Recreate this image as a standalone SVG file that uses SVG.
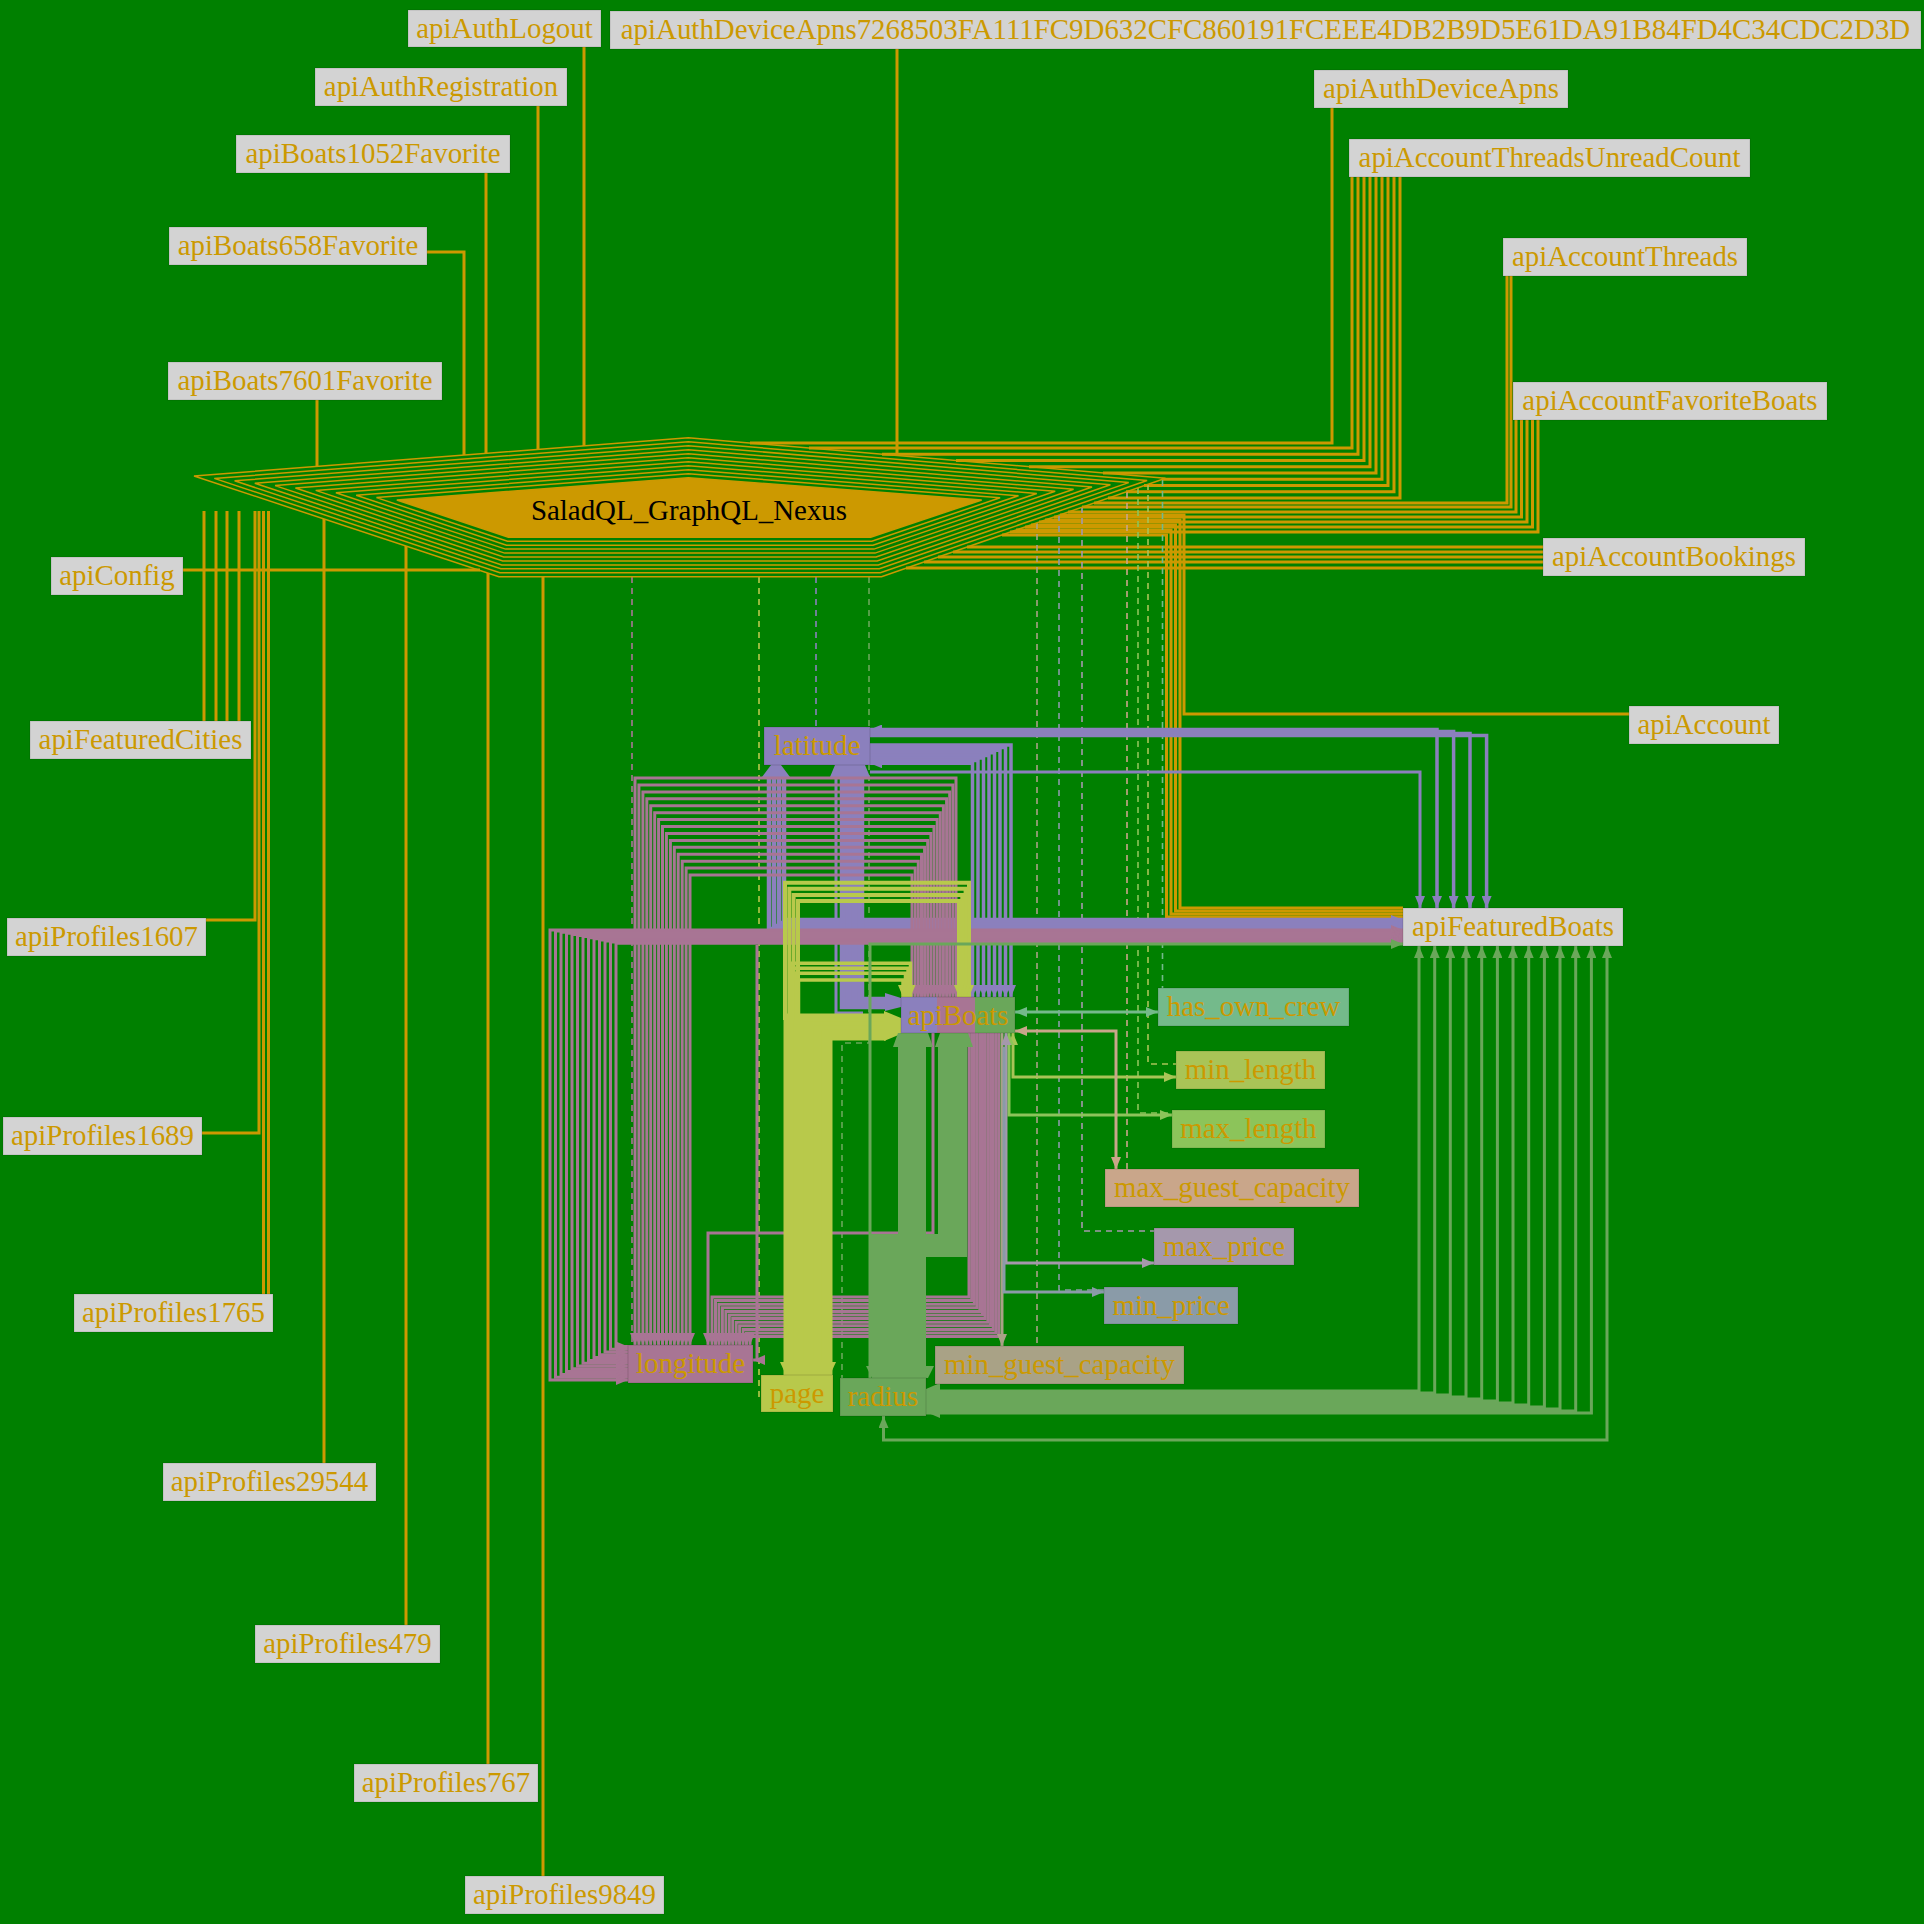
<svg xmlns="http://www.w3.org/2000/svg" width="1924" height="1924" viewBox="0 0 1924 1924">
<style>
.n rect{fill:#d3d3d3;stroke:#000;stroke-opacity:0.12;stroke-width:1.2}
.n text{font-family:"Liberation Serif","Times New Roman",serif;font-size:28.9px;fill:#cc9900;text-anchor:middle}
.o{stroke:#cc9900;stroke-width:3;fill:none}
.per{fill:none;stroke:#cc9900;stroke-width:1.5}
.d{fill:none;stroke-width:1.6;stroke-dasharray:6 5}
.pu{fill:none;stroke:#8b80bd}
.pk{fill:none;stroke:#a87594;stroke-width:3}
.ye{fill:none;stroke:#b8c94b}
.gr{fill:none;stroke:#6aa75a}
</style>
<defs>
<marker id="mP" viewBox="0 0 12 10" refX="12" refY="5" markerWidth="12" markerHeight="10" markerUnits="userSpaceOnUse" orient="auto-start-reverse"><path d="M0,0L12,5L0,10z" fill="#8b80bd"/></marker>
<marker id="mK" viewBox="0 0 12 10" refX="12" refY="5" markerWidth="12" markerHeight="10" markerUnits="userSpaceOnUse" orient="auto-start-reverse"><path d="M0,0L12,5L0,10z" fill="#a87594"/></marker>
<marker id="mY" viewBox="0 0 12 10" refX="12" refY="5" markerWidth="12" markerHeight="10" markerUnits="userSpaceOnUse" orient="auto-start-reverse"><path d="M0,0L12,5L0,10z" fill="#b8c94b"/></marker>
<marker id="mG" viewBox="0 0 12 10" refX="12" refY="5" markerWidth="12" markerHeight="10" markerUnits="userSpaceOnUse" orient="auto-start-reverse"><path d="M0,0L12,5L0,10z" fill="#6aa75a"/></marker>
<marker id="mT" viewBox="0 0 12 10" refX="12" refY="5" markerWidth="12" markerHeight="10" markerUnits="userSpaceOnUse" orient="auto-start-reverse"><path d="M0,0L12,5L0,10z" fill="#a9a286"/></marker>
<marker id="mMP" viewBox="0 0 12 10" refX="12" refY="5" markerWidth="12" markerHeight="10" markerUnits="userSpaceOnUse" orient="auto-start-reverse"><path d="M0,0L12,5L0,10z" fill="#a598ac"/></marker>
<marker id="mNP" viewBox="0 0 12 10" refX="12" refY="5" markerWidth="12" markerHeight="10" markerUnits="userSpaceOnUse" orient="auto-start-reverse"><path d="M0,0L12,5L0,10z" fill="#8a9ba8"/></marker>
<marker id="mGC" viewBox="0 0 12 10" refX="12" refY="5" markerWidth="12" markerHeight="10" markerUnits="userSpaceOnUse" orient="auto-start-reverse"><path d="M0,0L12,5L0,10z" fill="#c9a68a"/></marker>
<marker id="mXL" viewBox="0 0 12 10" refX="12" refY="5" markerWidth="12" markerHeight="10" markerUnits="userSpaceOnUse" orient="auto-start-reverse"><path d="M0,0L12,5L0,10z" fill="#8cc45a"/></marker>
<marker id="mNL" viewBox="0 0 12 10" refX="12" refY="5" markerWidth="12" markerHeight="10" markerUnits="userSpaceOnUse" orient="auto-start-reverse"><path d="M0,0L12,5L0,10z" fill="#a9c457"/></marker>
<marker id="mH" viewBox="0 0 12 10" refX="12" refY="5" markerWidth="12" markerHeight="10" markerUnits="userSpaceOnUse" orient="auto-start-reverse"><path d="M0,0L12,5L0,10z" fill="#74ba8b"/></marker>
<linearGradient id="gB" x1="0" x2="1" y1="0" y2="0">
<stop offset="0" stop-color="#8b80bd"/><stop offset="0.32" stop-color="#8b80bd"/><stop offset="0.32" stop-color="#a87594"/><stop offset="0.65" stop-color="#a87594"/><stop offset="0.65" stop-color="#6aa75a"/><stop offset="1" stop-color="#6aa75a"/>
</linearGradient>
</defs>
<rect x="0" y="0" width="1924" height="1924" fill="#008000"/>

<g id="connectors">
<g class="o">
<path d="M584 47V446"/>
<path d="M538 106V450"/>
<path d="M486 173V454"/>
<path d="M427 252H464V455"/>
<path d="M317 400V467"/>
<path d="M897 49V456"/>
<path d="M1332 108V443H750"/>
<path d="M1352 177V448H809"/>
<path d="M1358 177V454.2H882"/>
<path d="M1364 177V460.5H956"/>
<path d="M1370 177V466.8H1029"/>
<path d="M1376 177V473H1103"/>
<path d="M1382 177V479.2H1162"/>
<path d="M1388 177V485.5H1144"/>
<path d="M1394 177V491.8H1126"/>
<path d="M1400 177V498H1108"/>
<path d="M1507 276V503H1094"/>
<path d="M1511 276V507H1082"/>
<path d="M1516 420V512H1068"/>
<path d="M1521.5 420V517H1054"/>
<path d="M1527 420V522H1039"/>
<path d="M1532.5 420V527H1025"/>
<path d="M1538 420V532H1010"/>
<path d="M1543 547H967"/>
<path d="M1543 552H953"/>
<path d="M1543 557H938"/>
<path d="M1543 562H924"/>
<path d="M1543 568H906"/>
<path d="M1629 714H1184V515H1060"/>
<path d="M1045 520H1180V908H1403"/>
<path d="M1031 525H1175.5V911H1403"/>
<path d="M1016 530H1171V914H1403"/>
<path d="M1002 535H1166.5V917H1403"/>
<path d="M183 570H480"/>
<path d="M204 721V511"/>
<path d="M216 721V511"/>
<path d="M227 721V511"/>
<path d="M239 721V511"/>
<path d="M206 920H255V511"/>
<path d="M202 1133H259V511"/>
<path d="M263.5 1294V511"/>
<path d="M268.5 1294V511"/>
<path d="M324 1463V519"/>
<path d="M406 1625V546"/>
<path d="M488 1764V573"/>
<path d="M543 1876V577"/>
</g>
<path class="d" stroke="#a87594" d="M632 577V1345"/>
<path class="d" stroke="#b8c94b" d="M759 577V1397"/>
<path class="d" stroke="#8b80bd" d="M816 577V727"/>
<path class="d" stroke="#6aa75a" d="M869 577V1043H842V1378"/>
<path class="d" stroke="#a9a286" d="M1037 523V1346"/>
<path class="d" stroke="#8a9ba8" d="M1059 515V1290H1104"/>
<path class="d" stroke="#a598ac" d="M1082 507V1231H1154"/>
<path class="d" stroke="#c9a68a" d="M1127 492V1169"/>
<path class="d" stroke="#8cc45a" d="M1138 488V1113H1172"/>
<path class="d" stroke="#a9c457" d="M1148 484V1064H1176"/>
<path class="d" stroke="#74ba8b" d="M1162.5 480V988"/>
<g class="pu" stroke-width="3.5">
<path d="M870 729.5H1437V908" marker-start="url(#mP)" marker-end="url(#mP)"/>
<path d="M870 731.5H1453.6V908" marker-end="url(#mP)"/>
<path d="M870 733.5H1470V908" marker-end="url(#mP)"/>
<path d="M870 735.5H1486.6V908" marker-end="url(#mP)"/>
<path d="M870 772H1420V908" stroke-width="3" marker-end="url(#mP)"/>
<path d="M870 745H1011V997" marker-end="url(#mP)"/>
<path d="M870 747.6H1005.5V997" marker-end="url(#mP)"/>
<path d="M870 750.2H1000V997" marker-end="url(#mP)"/>
<path d="M870 752.8H994.5V997" marker-end="url(#mP)"/>
<path d="M870 755.4H989V997" marker-end="url(#mP)"/>
<path d="M870 758H983.5V997" marker-end="url(#mP)"/>
<path d="M870 760.6H978V997" marker-end="url(#mP)"/>
<path d="M870 763.2H972.5V997" marker-start="url(#mP)" marker-end="url(#mP)"/>
<path d="M769 777V929H1403" stroke-width="4.5" marker-end="url(#mP)"/>
<path d="M774 777V926H1403" stroke-width="4.5" marker-end="url(#mP)"/>
<path d="M779 777V923H1403" stroke-width="4.5" marker-end="url(#mP)"/>
<path d="M784 777V920H1403" stroke-width="4.5" marker-end="url(#mP)"/>
<path d="M843 777V1006H886" stroke-width="6.5"/>
<path d="M849 777V1004H886" stroke-width="6.5"/>
<path d="M855 777V1002H886" stroke-width="6.5"/>
<path d="M861 777V1000H886" stroke-width="6.5"/>
<path d="M836 777V1013H863" stroke-width="3"/>
</g>
<polygon fill="#8b80bd" points="762,777 790,777 781,765 771,765"/>
<polygon fill="#8b80bd" points="830,777 870,777 865,765 835,765"/>
<polygon fill="#8b80bd" points="885,993 901,998 901,1007 885,1011"/>
<g class="pk">
<path d="M956 997V778H635V1345" marker-start="url(#mK)" marker-end="url(#mK)"/>
<path d="M952.9 997V784.9H638.9V1345" marker-start="url(#mK)" marker-end="url(#mK)"/>
<path d="M949.7 997V791.9H642.9V1345" marker-start="url(#mK)" marker-end="url(#mK)"/>
<path d="M946.6 997V798.8H646.8V1345" marker-start="url(#mK)" marker-end="url(#mK)"/>
<path d="M943.4 997V805.7H650.7V1345" marker-start="url(#mK)" marker-end="url(#mK)"/>
<path d="M940.3 997V812.7H654.7V1345" marker-start="url(#mK)" marker-end="url(#mK)"/>
<path d="M937.2 997V819.6H658.6V1345" marker-start="url(#mK)" marker-end="url(#mK)"/>
<path d="M934 997V826.5H662.5V1345" marker-start="url(#mK)" marker-end="url(#mK)"/>
<path d="M930.9 997V833.4H666.4V1345" marker-start="url(#mK)" marker-end="url(#mK)"/>
<path d="M927.7 997V840.4H670.4V1345" marker-start="url(#mK)" marker-end="url(#mK)"/>
<path d="M924.6 997V847.3H674.3V1345" marker-start="url(#mK)" marker-end="url(#mK)"/>
<path d="M921.5 997V854.2H678.2V1345" marker-start="url(#mK)" marker-end="url(#mK)"/>
<path d="M918.3 997V861.2H682.2V1345" marker-start="url(#mK)" marker-end="url(#mK)"/>
<path d="M915.2 997V868.1H686.1V1345" marker-start="url(#mK)" marker-end="url(#mK)"/>
<path d="M912 997V875H690V1345" marker-start="url(#mK)" marker-end="url(#mK)"/>
<path d="M628 1380H550V930H1403" marker-start="url(#mK)" marker-end="url(#mK)"/>
<path d="M628 1377.2H555.5V931.1H1403" marker-start="url(#mK)" marker-end="url(#mK)"/>
<path d="M628 1374.4H561V932.2H1403" marker-start="url(#mK)" marker-end="url(#mK)"/>
<path d="M628 1371.6H566.5V933.3H1403" marker-start="url(#mK)" marker-end="url(#mK)"/>
<path d="M628 1368.8H572V934.4H1403" marker-start="url(#mK)" marker-end="url(#mK)"/>
<path d="M628 1366H577.5V935.5H1403" marker-start="url(#mK)" marker-end="url(#mK)"/>
<path d="M628 1363.2H583V936.6H1403" marker-start="url(#mK)" marker-end="url(#mK)"/>
<path d="M628 1360.4H588.5V937.7H1403" marker-start="url(#mK)" marker-end="url(#mK)"/>
<path d="M628 1357.6H594V938.8H1403" marker-start="url(#mK)" marker-end="url(#mK)"/>
<path d="M628 1354.8H599.5V939.9H1403" marker-start="url(#mK)" marker-end="url(#mK)"/>
<path d="M628 1352H605V941H1403" marker-start="url(#mK)" marker-end="url(#mK)"/>
<path d="M628 1349.2H610.5V942.1H1403" marker-start="url(#mK)" marker-end="url(#mK)"/>
<path d="M628 1346.4H616V943.2H1403" marker-start="url(#mK)" marker-end="url(#mK)"/>
<path d="M969 1033V1297H712V1345" marker-end="url(#mK)"/>
<path d="M971.7 1033V1300.6H715.5V1345" marker-end="url(#mK)"/>
<path d="M974.4 1033V1304.2H718.9V1345" marker-end="url(#mK)"/>
<path d="M977.1 1033V1307.8H722.4V1345" marker-end="url(#mK)"/>
<path d="M979.8 1033V1311.4H725.8V1345" marker-end="url(#mK)"/>
<path d="M982.5 1033V1315H729.3V1345" marker-end="url(#mK)"/>
<path d="M985.2 1033V1318.6H732.7V1345" marker-end="url(#mK)"/>
<path d="M987.9 1033V1322.2H736.2V1345" marker-end="url(#mK)"/>
<path d="M990.6 1033V1325.8H739.6V1345" marker-end="url(#mK)"/>
<path d="M993.3 1033V1329.4H743.1V1345" marker-end="url(#mK)"/>
<path d="M996 1033V1333H746.5V1345" marker-end="url(#mK)"/>
<path d="M998.7 1033V1336.6H750V1345" marker-end="url(#mK)"/>
<path d="M933 1033V1233H708V1345" marker-end="url(#mK)"/>
<path d="M757 945V1360H753" marker-end="url(#mK)"/>
</g>
<path d="M1002 1033V1346" fill="none" stroke="#a9a286" stroke-width="3" marker-end="url(#mT)"/>
<g class="ye">
<path d="M789 1375V1019H886" stroke-width="11"/>
<path d="M799 1375V1023H886" stroke-width="11"/>
<path d="M809 1375V1027H886" stroke-width="11"/>
<path d="M819 1375V1031H886" stroke-width="11"/>
<path d="M827 1375V1035H886" stroke-width="11"/>
<path d="M785 1020V882.7H969V997" stroke-width="4" marker-end="url(#mY)"/>
<path d="M789.3 1020V888.8H965.6V997" stroke-width="4" marker-end="url(#mY)"/>
<path d="M793.6 1020V894.9H962.3V997" stroke-width="4" marker-end="url(#mY)"/>
<path d="M798 1020V901H959V997" stroke-width="4" marker-end="url(#mY)"/>
<path d="M791 1020V963.3H910.5V997" stroke-width="3.5" marker-end="url(#mY)"/>
<path d="M793.5 1020V968.3H908V997" stroke-width="3.5" marker-end="url(#mY)"/>
<path d="M796 1020V973.3H905.5V997" stroke-width="3.5" marker-end="url(#mY)"/>
<path d="M798.5 1020V980H903V997" stroke-width="3.5" marker-end="url(#mY)"/>
</g>
<polygon fill="#b8c94b" points="884,1011 901,1018 901,1034 884,1041"/>
<polygon fill="#b8c94b" points="780,1362 836,1362 830,1375 786,1375"/>
<path d="M1013 1033V1077H1176" fill="none" stroke="#a9c457" stroke-width="3" marker-start="url(#mNL)" marker-end="url(#mNL)"/>
<path d="M1009 1033V1115H1172" fill="none" stroke="#8cc45a" stroke-width="3" marker-start="url(#mXL)" marker-end="url(#mXL)"/>
<g class="gr">
<path d="M902 1047V1366" stroke-width="8"/>
<path d="M909 1047V1366" stroke-width="8"/>
<path d="M916 1047V1366" stroke-width="8"/>
<path d="M922 1047V1366" stroke-width="8"/>
<path d="M942 1047V1238H873V1366" stroke-width="8"/>
<path d="M949 1047V1243H880V1366" stroke-width="8"/>
<path d="M956 1047V1248H887V1366" stroke-width="8"/>
<path d="M963 1047V1253H894V1366" stroke-width="8"/>
<path d="M870 1378V944H1403" stroke-width="3" marker-end="url(#mG)"/>
<path d="M926 1391H1419V946" stroke-width="3" marker-end="url(#mG)"/>
<path d="M926 1393H1434.7V946" stroke-width="3" marker-end="url(#mG)"/>
<path d="M926 1395H1450.3V946" stroke-width="3" marker-end="url(#mG)"/>
<path d="M926 1397H1466V946" stroke-width="3" marker-end="url(#mG)"/>
<path d="M926 1399H1481.7V946" stroke-width="3" marker-end="url(#mG)"/>
<path d="M926 1401H1497.4V946" stroke-width="3" marker-end="url(#mG)"/>
<path d="M926 1403H1513V946" stroke-width="3" marker-end="url(#mG)"/>
<path d="M926 1405H1528.7V946" stroke-width="3" marker-end="url(#mG)"/>
<path d="M926 1407H1544.4V946" stroke-width="3" marker-end="url(#mG)"/>
<path d="M926 1409H1560V946" stroke-width="3" marker-end="url(#mG)"/>
<path d="M926 1411H1575.7V946" stroke-width="3" marker-end="url(#mG)"/>
<path d="M926 1413H1591.4V946" stroke-width="3" marker-end="url(#mG)"/>
<path d="M1607 946V1440H883.5V1416" stroke-width="3" marker-start="url(#mG)" marker-end="url(#mG)"/>
</g>
<polygon fill="#6aa75a" points="893,1047 933,1047 928,1033 898,1033"/>
<polygon fill="#6aa75a" points="935,1047 973,1047 968,1033 940,1033"/>
<polygon fill="#6aa75a" points="866,1366 934,1366 928,1378 872,1378"/>
<polygon fill="#6aa75a" points="940,1383 940,1418 926,1412 926,1389"/>
<path d="M1015 1012H1158" fill="none" stroke="#74ba8b" stroke-width="3" marker-start="url(#mH)" marker-end="url(#mH)"/>
<path d="M1015 1031H1116V1169" fill="none" stroke="#c9a68a" stroke-width="3" marker-start="url(#mGC)" marker-end="url(#mGC)"/>
<path d="M1006 1033V1263H1154" fill="none" stroke="#a598ac" stroke-width="3" marker-start="url(#mMP)" marker-end="url(#mMP)"/>
<path d="M1004 1047V1292H1104" fill="none" stroke="#8a9ba8" stroke-width="3" marker-end="url(#mNP)"/>
</g>

<g id="SaladQL_GraphQL_Nexus">
<polygon class="per" points="688.3,473.7 1000.1,497.8 871.8,541.2 507.5,541.2 376.5,497.6"/>
<polygon class="per" points="688.3,469.7 1018.5,495.7 872.9,545.2 506.5,545.2 356.2,495.2"/>
<polygon class="per" points="688.3,465.7 1036.8,493.5 873.9,549.1 505.6,549.1 335.9,492.8"/>
<polygon class="per" points="688.3,461.7 1055.2,491.3 875,553.1 504.6,553.1 315.7,490.4"/>
<polygon class="per" points="688.3,457.7 1073.6,489.2 876.1,557 503.7,557 295.4,488"/>
<polygon class="per" points="688.3,453.7 1092,487 877.2,561 502.7,561 275.1,485.6"/>
<polygon class="per" points="688.3,449.7 1110.4,484.8 878.3,564.9 501.7,564.9 254.8,483.2"/>
<polygon class="per" points="688.3,445.7 1128.7,482.6 879.3,568.8 500.8,568.8 234.6,480.8"/>
<polygon class="per" points="688.3,441.7 1147.1,480.5 880.4,572.8 499.9,572.8 214.3,478.4"/>
<polygon class="per" points="688.3,437.7 1165.5,478.3 881.5,576.7 498.9,576.7 194,476"/>
<polygon fill="#cc9900" stroke="#cc9900" stroke-width="1.5" points="688.3,477.7 981.7,500 870.7,537.3 508.4,537.3 396.8,500"/>
<text x="689" y="520" font-family="Liberation Serif, Times New Roman, serif" font-size="28.9" fill="#000" text-anchor="middle">SaladQL_GraphQL_Nexus</text>
</g>

<g id="apiAuthLogout" class="n"><rect x="408" y="10" width="193" height="37"/><text x="504.5" y="38">apiAuthLogout</text></g>
<g id="apiAuthDeviceApns7268503FA111FC9D632CFC860191FCEEE4DB2B9D5E61DA91B84FD4C34CDC2D3D" class="n"><rect x="610" y="11" width="1311" height="38"/><text x="1265.5" y="39">apiAuthDeviceApns7268503FA111FC9D632CFC860191FCEEE4DB2B9D5E61DA91B84FD4C34CDC2D3D</text></g>
<g id="apiAuthRegistration" class="n"><rect x="315" y="68" width="252" height="38"/><text x="441" y="96">apiAuthRegistration</text></g>
<g id="apiBoats1052Favorite" class="n"><rect x="236" y="135" width="274" height="38"/><text x="373" y="163">apiBoats1052Favorite</text></g>
<g id="apiBoats658Favorite" class="n"><rect x="169" y="227" width="258" height="38"/><text x="298" y="255">apiBoats658Favorite</text></g>
<g id="apiBoats7601Favorite" class="n"><rect x="168" y="362" width="274" height="38"/><text x="305" y="390">apiBoats7601Favorite</text></g>
<g id="apiAuthDeviceApns" class="n"><rect x="1314" y="70" width="254" height="38"/><text x="1441" y="98">apiAuthDeviceApns</text></g>
<g id="apiAccountThreadsUnreadCount" class="n"><rect x="1349" y="139" width="401" height="38"/><text x="1549.5" y="167">apiAccountThreadsUnreadCount</text></g>
<g id="apiAccountThreads" class="n"><rect x="1503" y="238" width="244" height="38"/><text x="1625" y="266">apiAccountThreads</text></g>
<g id="apiAccountFavoriteBoats" class="n"><rect x="1513" y="382" width="314" height="38"/><text x="1670" y="410">apiAccountFavoriteBoats</text></g>
<g id="apiAccountBookings" class="n"><rect x="1543" y="538" width="262" height="38"/><text x="1674" y="566">apiAccountBookings</text></g>
<g id="apiAccount" class="n"><rect x="1629" y="706" width="150" height="38"/><text x="1704" y="734">apiAccount</text></g>
<g id="apiFeaturedBoats" class="n"><rect x="1403" y="908" width="220" height="38"/><text x="1513" y="936">apiFeaturedBoats</text></g>
<g id="apiConfig" class="n"><rect x="51" y="557" width="132" height="38"/><text x="117" y="585">apiConfig</text></g>
<g id="apiFeaturedCities" class="n"><rect x="30" y="721" width="221" height="38"/><text x="140.5" y="749">apiFeaturedCities</text></g>
<g id="apiProfiles1607" class="n"><rect x="7" y="918" width="199" height="38"/><text x="106.5" y="946">apiProfiles1607</text></g>
<g id="apiProfiles1689" class="n"><rect x="3" y="1117" width="199" height="38"/><text x="102.5" y="1145">apiProfiles1689</text></g>
<g id="apiProfiles1765" class="n"><rect x="74" y="1294" width="199" height="38"/><text x="173.5" y="1322">apiProfiles1765</text></g>
<g id="apiProfiles29544" class="n"><rect x="163" y="1463" width="213" height="38"/><text x="269.5" y="1491">apiProfiles29544</text></g>
<g id="apiProfiles479" class="n"><rect x="255" y="1625" width="185" height="38"/><text x="347.5" y="1653">apiProfiles479</text></g>
<g id="apiProfiles767" class="n"><rect x="354" y="1764" width="184" height="38"/><text x="446" y="1792">apiProfiles767</text></g>
<g id="apiProfiles9849" class="n"><rect x="465" y="1876" width="199" height="38"/><text x="564.5" y="1904">apiProfiles9849</text></g>
<g id="latitude" class="n"><rect x="764" y="727" width="106" height="38" style="fill:#8b80bd"/><text x="817" y="755">latitude</text></g>
<g id="apiBoats" class="n"><rect x="901" y="997" width="114" height="36" style="fill:url(#gB)"/><text x="958" y="1025">apiBoats</text></g>
<g id="longitude" class="n"><rect x="628" y="1345" width="125" height="38" style="fill:#a87594"/><text x="690.5" y="1373">longitude</text></g>
<g id="page" class="n"><rect x="761" y="1375" width="72" height="37" style="fill:#b8c94b"/><text x="797" y="1403">page</text></g>
<g id="radius" class="n"><rect x="840" y="1378" width="86" height="38" style="fill:#6aa75a"/><text x="883" y="1406">radius</text></g>
<g id="min_guest_capacity" class="n"><rect x="935" y="1346" width="249" height="38" style="fill:#a9a286"/><text x="1059.5" y="1374">min_guest_capacity</text></g>
<g id="min_price" class="n"><rect x="1104" y="1287" width="134" height="37" style="fill:#8a9ba8"/><text x="1171" y="1315">min_price</text></g>
<g id="max_price" class="n"><rect x="1154" y="1228" width="140" height="37" style="fill:#a598ac"/><text x="1224" y="1256">max_price</text></g>
<g id="max_guest_capacity" class="n"><rect x="1105" y="1169" width="254" height="38" style="fill:#c9a68a"/><text x="1232" y="1197">max_guest_capacity</text></g>
<g id="max_length" class="n"><rect x="1172" y="1110" width="153" height="38" style="fill:#8cc45a"/><text x="1248.5" y="1138">max_length</text></g>
<g id="min_length" class="n"><rect x="1176" y="1051" width="149" height="38" style="fill:#a9c457"/><text x="1250.5" y="1079">min_length</text></g>
<g id="has_own_crew" class="n"><rect x="1158" y="988" width="191" height="38" style="fill:#74ba8b"/><text x="1253.5" y="1016">has_own_crew</text></g>
</svg>
